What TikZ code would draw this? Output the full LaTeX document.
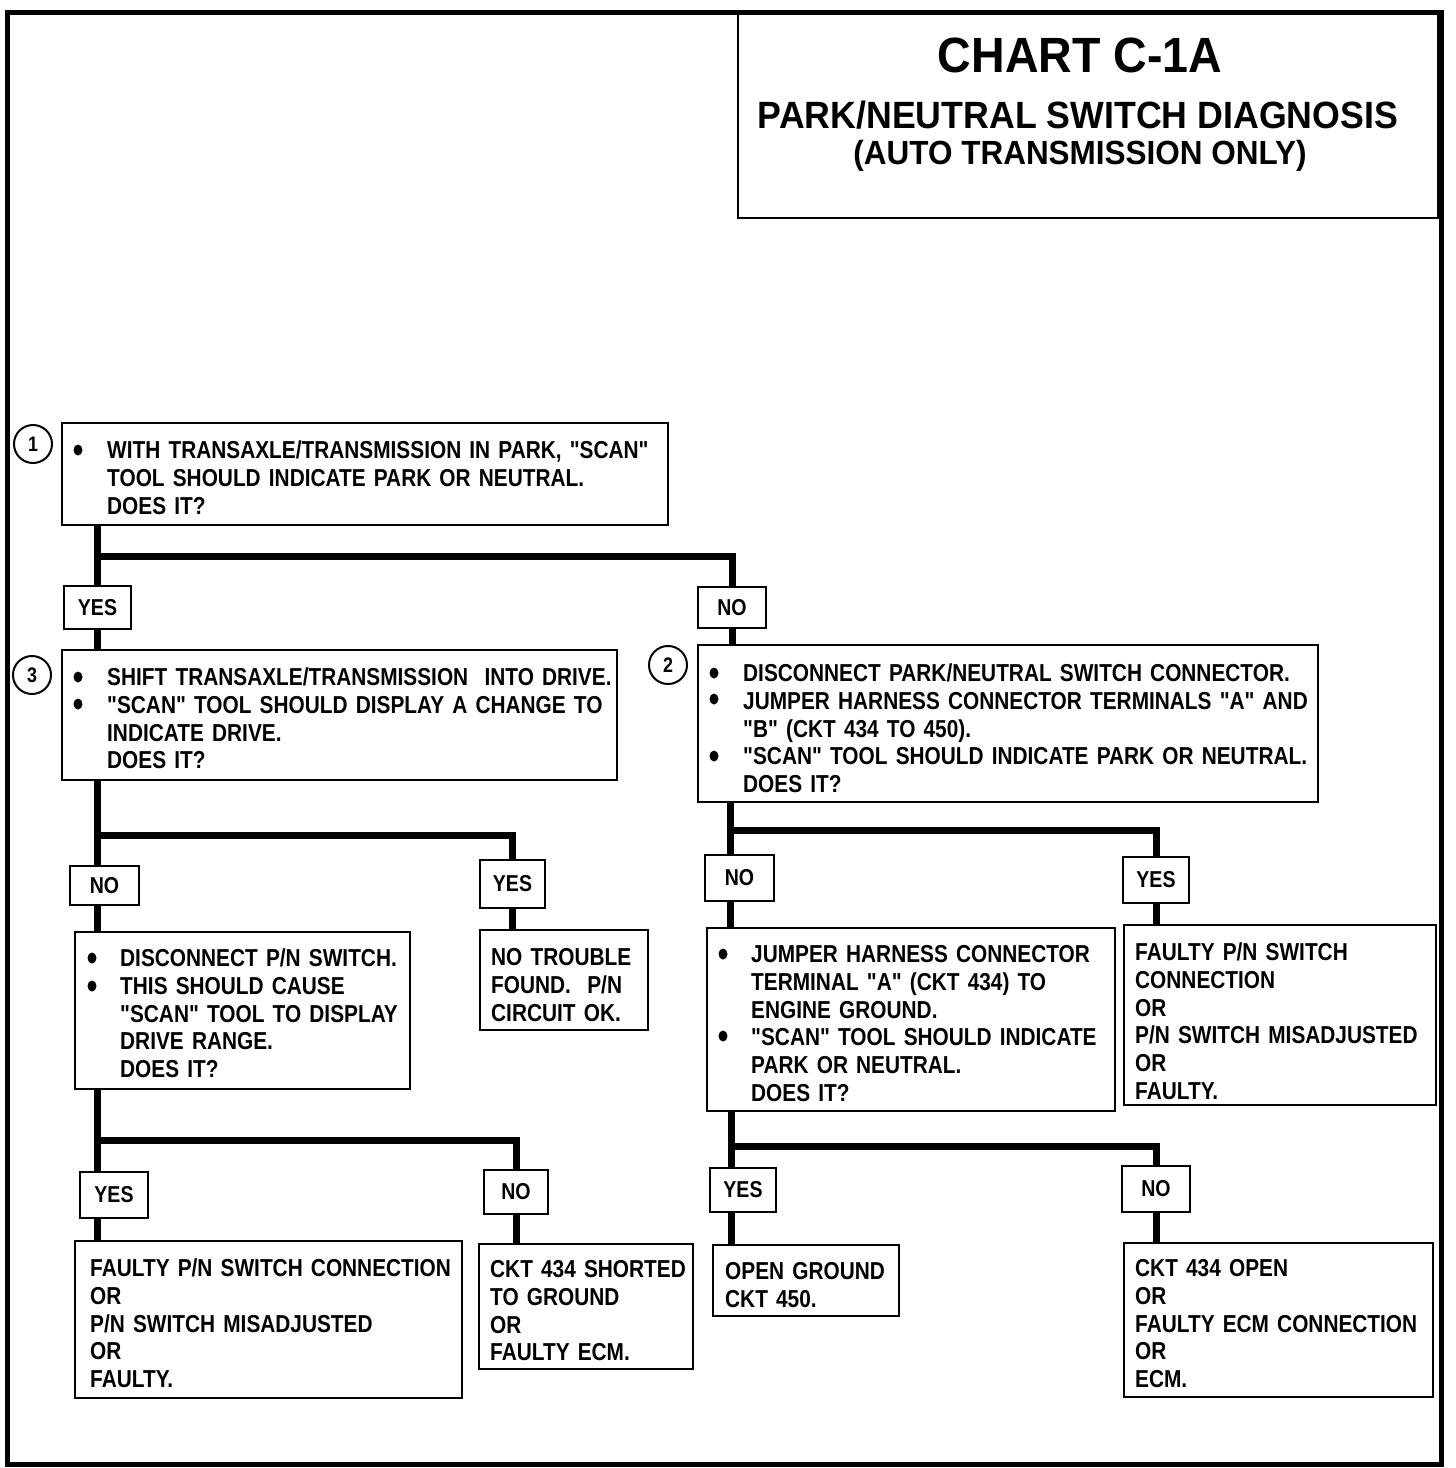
\documentclass[tikz,border=0pt]{standalone}
\usepackage{fontspec}
\setmainfont{Liberation Sans}
\newfontfamily\bodyf[FakeStretch=0.85]{Liberation Sans Bold}
\newfontfamily\titlef[FakeStretch=0.94]{Liberation Sans Bold}
\usetikzlibrary{fit}
\tikzset{
  box/.style={draw, line width=2.5pt, inner sep=0pt, rectangle},
  lab/.style={draw, line width=2.5pt, inner sep=0pt, rectangle, font=\bodyf\fontsize{23}{26}\selectfont},
  txt/.style={anchor=base west, inner sep=0pt, align=left, text width=700pt, font=\bodyf\fontsize{24.5}{27.8}\selectfont},
  conn/.style={line width=7pt, line join=miter},
  num/.style={draw, circle, line width=2pt, minimum size=38pt, inner sep=0pt, font=\bodyf\fontsize{21}{24}\selectfont},
  ttl/.style={inner sep=0pt},
}
\newcommand\bul[1]{\fill #1 ellipse [x radius=4.5pt, y radius=5.5pt];}
\begin{document}
\begin{tikzpicture}[x=1pt, y=-1pt]
\useasboundingbox (0,0) rectangle (1456,1468);
\fill[white] (0,0) rectangle (1456,1468);

% title
\node[draw, line width=2pt, inner sep=0pt, fit={(738,12) (1438,218)}] (tb) {};
\node[ttl, font=\titlef\fontsize{49.5}{54}\selectfont] (t1) at (1080,55) {CHART C-1A};
\node[ttl, font=\titlef\fontsize{38}{42}\selectfont] (t2) at (1078,115) {PARK/NEUTRAL SWITCH DIAGNOSIS};
\node[ttl, font=\titlef\fontsize{33.5}{38}\selectfont] (t3) at (1080,156) {(AUTO TRANSMISSION ONLY)};

% frame
\node[draw, line width=5pt, inner sep=0pt, fit={(7,12) (1441,1464)}] (frame) {};

% step 1
\node[num] (c1) at (33,444) {1};
\node[box, fit={(62,423) (668,525)}] (b1) {};
\bul{(78,450)}
\node[txt] (tx1) at (107,458.5) {WITH TRANSAXLE/TRANSMISSION IN PARK, "SCAN"\\TOOL SHOULD INDICATE PARK OR NEUTRAL.\\DOES IT?};

\node[lab, minimum width=67pt, minimum height=43pt] (y1) at (97.5,607.5) {YES};
\node[lab, minimum width=68pt, minimum height=41pt] (n1) at (732,607.5) {NO};
\coordinate (j1) at (97,556);

% step 3
\node[num] (c3) at (32,675) {3};
\node[box, fit={(62,650) (617,780)}] (b3) {};
\bul{(78,677)}
\bul{(78,704)}
\node[txt] (tx3) at (107,685.5) {SHIFT TRANSAXLE/TRANSMISSION\ \ INTO DRIVE.\\"SCAN" TOOL SHOULD DISPLAY A CHANGE TO\\INDICATE DRIVE.\\DOES IT?};

% step 2
\node[num] (c2) at (668,665) {2};
\node[box, fit={(698,645) (1318,802)}] (b2) {};
\bul{(714,673)}
\bul{(714,699)}
\bul{(714,756)}
\node[txt] (tx2) at (743,681.5) {DISCONNECT PARK/NEUTRAL SWITCH CONNECTOR.\\JUMPER HARNESS CONNECTOR TERMINALS "A" AND\\"B" (CKT 434 TO 450).\\"SCAN" TOOL SHOULD INDICATE PARK OR NEUTRAL.\\DOES IT?};

% connectors level 1
\draw[conn] (b1.south -| j1) -- (y1.north -| j1);
\draw[conn] (j1) -| (n1.north);
\draw[conn] (y1.south -| j1) -- (b3.north -| j1);
\draw[conn] (n1.south) -- (b2.north -| n1.south);

% level 3 branches
\coordinate (j3) at (97,835);
\node[lab, minimum width=69pt, minimum height=39pt] (n3) at (104.5,885.5) {NO};
\node[lab, minimum width=65pt, minimum height=48pt] (y3) at (512.5,884) {YES};
\node[box, fit={(75,932) (410,1089)}] (d1) {};
\bul{(92,958)}
\bul{(92,986)}
\node[txt] (txd) at (120,966.5) {DISCONNECT P/N SWITCH.\\THIS SHOULD CAUSE\\"SCAN" TOOL TO DISPLAY\\DRIVE RANGE.\\DOES IT?};
\node[box, fit={(480,930) (648,1030)}] (nt) {};
\node[txt] (txn) at (491,965.5) {NO TROUBLE\\FOUND.\ \ P/N\\CIRCUIT OK.};
\draw[conn] (b3.south -| j3) -- (n3.north -| j3);
\draw[conn] (j3) -| (y3.north);
\draw[conn] (n3.south -| j3) -- (d1.north -| j3);
\draw[conn] (y3.south) -- (nt.north -| y3.south);

% disconnect branches
\coordinate (j4) at (97,1140);
\node[lab, minimum width=68pt, minimum height=46pt] (y4) at (114,1195) {YES};
\node[lab, minimum width=64pt, minimum height=44pt] (n4) at (516,1192) {NO};
\node[box, fit={(75,1241) (462,1398)}] (f1) {};
\node[txt] (txf1) at (90,1276.5) {FAULTY P/N SWITCH CONNECTION\\OR\\P/N SWITCH MISADJUSTED\\OR\\FAULTY.};
\node[box, fit={(479,1244) (693,1369)}] (s1) {};
\node[txt] (txs1) at (490,1277.5) {CKT 434 SHORTED\\TO GROUND\\OR\\FAULTY ECM.};
\draw[conn] (d1.south -| j4) -- (y4.north -| j4);
\draw[conn] (j4) -| (n4.north);
\draw[conn] (y4.south -| j4) -- (f1.north -| j4);
\draw[conn] (n4.south) -- (s1.north -| n4.south);

% level 2 branches
\coordinate (j2) at (730,830);
\node[lab, minimum width=69pt, minimum height=46pt] (n2) at (739.5,878) {NO};
\node[lab, minimum width=66pt, minimum height=46pt] (y2) at (1156,880) {YES};
\node[box, fit={(707,928) (1115,1111)}] (jp) {};
\bul{(723,954)}
\bul{(723,1036)}
\node[txt] (txj) at (751,962.5) {JUMPER HARNESS CONNECTOR\\TERMINAL "A" (CKT 434) TO\\ENGINE GROUND.\\"SCAN" TOOL SHOULD INDICATE\\PARK OR NEUTRAL.\\DOES IT?};
\node[box, fit={(1124,925) (1436,1105)}] (fr) {};
\node[txt] (txfr) at (1135,960.5) {FAULTY P/N SWITCH\\CONNECTION\\OR\\P/N SWITCH MISADJUSTED\\OR\\FAULTY.};
\draw[conn] (b2.south -| j2) -- (n2.north -| j2);
\draw[conn] (j2) -| (y2.north);
\draw[conn] (n2.south -| j2) -- (jp.north -| j2);
\draw[conn] (y2.south) -- (fr.north -| y2.south);

% jumper branches
\coordinate (j5) at (731,1146);
\node[lab, minimum width=66pt, minimum height=44pt] (y5) at (743,1190) {YES};
\node[lab, minimum width=68pt, minimum height=46pt] (n5) at (1156,1189) {NO};
\node[box, fit={(713,1245) (899,1316)}] (og) {};
\node[txt] (txog) at (725,1279.5) {OPEN GROUND\\CKT 450.};
\node[box, fit={(1124,1243) (1433,1397)}] (co) {};
\node[txt] (txco) at (1135,1276.5) {CKT 434 OPEN\\OR\\FAULTY ECM CONNECTION\\OR\\ECM.};
\draw[conn] (jp.south -| j5) -- (y5.north -| j5);
\draw[conn] (j5) -| (n5.north);
\draw[conn] (y5.south -| j5) -- (og.north -| j5);
\draw[conn] (n5.south) -- (co.north -| n5.south);
\end{tikzpicture}
\end{document}
